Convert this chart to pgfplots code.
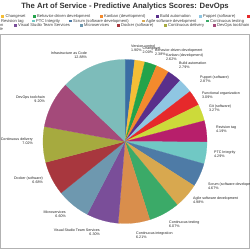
\documentclass[border=0pt]{standalone}
\usepackage{pgfplots}
\pgfplotsset{compat=1.18}
\usepackage{pgfplotstable}
\usepackage{fontspec}
\setmainfont{Liberation Sans}

\definecolor{c0}{HTML}{3A6DA4}
\definecolor{c1}{HTML}{F5BE36}
\definecolor{c2}{HTML}{23A34A}
\definecolor{c3}{HTML}{F38A2D}
\definecolor{c4}{HTML}{5A2F8B}
\definecolor{c5}{HTML}{8FC6E2}
\definecolor{c6}{HTML}{E6292B}
\definecolor{c7}{HTML}{CCDA3A}
\definecolor{c8}{HTML}{B71F6B}
\definecolor{c9}{HTML}{70C8C4}
\definecolor{c10}{HTML}{4E7BA6}
\definecolor{c11}{HTML}{D8A84F}
\definecolor{c12}{HTML}{3BAA68}
\definecolor{c13}{HTML}{D98E4C}
\definecolor{c14}{HTML}{7A4E99}
\definecolor{c15}{HTML}{6E98AF}
\definecolor{c16}{HTML}{A8373E}
\definecolor{c17}{HTML}{A6AA3F}
\definecolor{c18}{HTML}{A44A7A}
\definecolor{c19}{HTML}{7DBCBA}

\pgfplotstableread[col sep=comma]{
name,value
Version control,1.90
Changeset,2.00
Behavior-driven development,2.38
Kanban (development),2.62
Build automation,2.79
Puppet (software),2.87
Functional organization,3.09
Git (software),3.27
Revision tag,4.19
PTC Integrity,4.29
Scrum (software development),4.67
Agile software development,4.98
Continuous testing,6.07
Continuous integration,6.21
Visual Studio Team Services,6.30
Microservices,6.60
Docker (software),6.68
Continuous delivery,7.02
DevOps toolchain,9.20
Infrastructure as Code,12.88
}\pietable

\tikzset{
  lbl/.style={font=\fontsize{3.65}{4}\selectfont, text=black!85, inner sep=0pt},
  leg/.style={font=\fontsize{4.1}{5}\selectfont, text=black!75, inner sep=0pt},
}
% right-side label (left aligned)
\newcommand\labW[4]{%
  \node[lbl, anchor=base west] at (#1, 250-#2-1.3) {#3};
  \node[lbl, anchor=base west] at (#1, 250-#2-5.3) {#4};}
% left-side label (right aligned)
\newcommand\labE[4]{%
  \node[lbl, anchor=base east] at (#1, 250-#2-1.3) {#3};
  \node[lbl, anchor=base east] at (#1, 250-#2-5.3) {#4};}
% legend entry: swatch left x, row centre y, colour, text
\newcommand\legE[4]{%
  \fill[#3] (#1, 250-#2-1.4) rectangle ++(2.8,2.8);
  \node[leg, anchor=base west] at (#1+4, 250-#2-1.4) {#4};}

\begin{document}
\begin{tikzpicture}[x=1bp,y=1bp]
\useasboundingbox (0,0) rectangle (250,250);
\clip (0,0) rectangle (250,250);
\fill[white] (0,0) rectangle (250,250);
\draw[gray!60, line width=0.9bp] (0.6,250-34.8) rectangle (249.4,1.4);

\node[font=\bfseries\fontsize{7.7}{9}\selectfont, text=black!80, anchor=base, inner sep=0pt]
  at (125,250-8.6) {The Art of Service - Predictive Analytics Scores: DevOps};

% legend (cut off at both sides, as in the reference)
\legE{1.5}{16.5}{c1}{Changeset}
\legE{33}{16.5}{c2}{Behavior-driven development}
\legE{100}{16.5}{c3}{Kanban (development)}
\legE{156}{16.5}{c4}{Build automation}
\legE{199}{16.5}{c5}{Puppet (software)}
\legE{247}{16.5}{c6}{Functional organization}
\legE{-3}{21}{c8}{Revision tag}
\legE{32}{21}{c9}{PTC Integrity}
\legE{69}{21}{c10}{Scrum (software development)}
\legE{142}{21}{c11}{Agile software development}
\legE{206}{21}{c12}{Continuous testing}
\node[leg, anchor=base east] at (3.5,250-25.5-1.4) {Continuous integration};
\legE{14}{25.5}{c14}{Visual Studio Team Services}
\legE{80}{25.5}{c15}{Microservices}
\legE{117}{25.5}{c16}{Docker (software)}
\legE{164}{25.5}{c17}{Continuous delivery}
\legE{213}{25.5}{c18}{DevOps toolchain}
\node[leg, anchor=base east] at (3.2,250-29.5-1.4) {Infrastructure as Code};

\begin{axis}[at={(125bp,108.5bp)}, anchor=center, scale only axis,
  width=164bp, height=164bp, xmin=-1, xmax=1, ymin=-1, ymax=1,
  hide axis, clip=false]
\pgfplotstablegetrowsof{\pietable}
\pgfmathtruncatemacro\N{\pgfplotsretval-1}
\def\total{0}
\pgfplotsforeachungrouped \i in {0,...,\N}{%
  \pgfplotstablegetelem{\i}{value}\of\pietable
  \pgfmathsetmacro\total{\total+\pgfplotsretval}}
\def\cum{0}
\pgfplotsforeachungrouped \i in {0,...,\N}{%
  \pgfplotstablegetelem{\i}{value}\of\pietable
  \pgfmathsetmacro\a{90-\cum/\total*360}
  \pgfmathsetmacro\cum{\cum+\pgfplotsretval}
  \pgfmathsetmacro\b{90-\cum/\total*360}
  \edef\temp{\noexpand\addplot[fill=c\i, draw=c\i, line width=0.2pt, no markers,
     domain=\b:\a, samples=40, variable=\noexpand\t]
     ({cos(\noexpand\t)},{sin(\noexpand\t)}) -- (0,0) -- cycle;}
  \temp}
\end{axis}

% slice labels
\labW{131}{46}{Version control}{1.90\%}
\labW{142.5}{48.5}{Changeset}{2.00\%}
\labW{155}{50.5}{Behavior-driven development}{2.38\%}
\labW{166}{55}{Kanban (development)}{2.62\%}
\labW{179}{63}{Build automation}{2.79\%}
\labW{200}{77}{Puppet (software)}{2.87\%}
\labW{202}{93}{Functional organization}{3.09\%}
\labW{209}{106}{Git (software)}{3.27\%}
\labW{216}{127}{Revision tag}{4.19\%}
\labW{214}{152}{PTC Integrity}{4.29\%}
\labW{208}{184}{Scrum (software development)}{4.67\%}
\labW{193}{198}{Agile software development}{4.98\%}
\labW{169}{222}{Continuous testing}{6.07\%}
\labW{136}{233}{Continuous integration}{6.21\%}
\labE{100}{230}{Visual Studio Team Services}{6.30\%}
\labE{66}{212}{Microservices}{6.60\%}
\labE{43}{178}{Docker (software)}{6.68\%}
\labE{33}{139}{Continuous delivery}{7.02\%}
\labE{45}{97}{DevOps toolchain}{9.20\%}
\labE{87}{53}{Infrastructure as Code}{12.88\%}
\end{tikzpicture}
\end{document}
